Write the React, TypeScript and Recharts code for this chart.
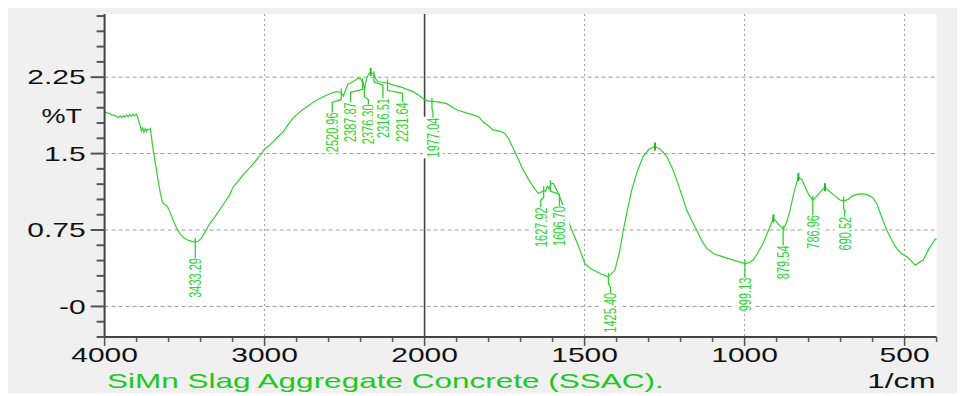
import {
  ComposedChart, Line, XAxis, YAxis, CartesianGrid, ReferenceDot,
} from "recharts";

// FTIR trace, wavenumber (1/cm) vs %T
const wavenumbers = [
  4000, 3985, 3970, 3955, 3940, 3925, 3912, 3902, 3892, 3882, 3872, 3862, 3852, 3842, 3832, 3822,
  3812, 3802, 3794, 3786, 3778, 3770, 3762, 3754, 3746, 3738, 3730, 3722, 3714, 3706, 3695, 3680,
  3665, 3650, 3638, 3625, 3612, 3598, 3585, 3570, 3550, 3530, 3505, 3475, 3450, 3433, 3415, 3395,
  3375, 3355, 3335, 3310, 3280, 3250, 3220, 3196, 3170, 3140, 3100, 3060, 3030, 3000, 2975, 2950,
  2920, 2883, 2860, 2821, 2790, 2760, 2730, 2696, 2654, 2610, 2580, 2560, 2540, 2521, 2508, 2495,
  2480, 2466, 2440, 2414, 2400, 2388, 2383, 2376, 2368, 2362, 2350, 2337, 2328, 2316, 2300, 2289,
  2260, 2227, 2190, 2154, 2110, 2071, 2035, 1999, 1978, 1962, 1931, 1900, 1870, 1848, 1830, 1817,
  1800, 1785, 1764, 1750, 1738, 1723, 1705, 1692, 1672, 1655, 1645, 1636, 1628, 1622, 1616, 1611,
  1606, 1598, 1590, 1582, 1572, 1544, 1520, 1499, 1485, 1473, 1450, 1426, 1405, 1390, 1379, 1366,
  1353, 1335, 1317, 1300, 1280, 1262, 1243, 1225, 1212, 1195, 1181, 1165, 1150, 1135, 1118, 1095,
  1067, 1035, 999, 985, 973, 960, 942, 925, 910, 895, 879, 868, 858, 845, 832, 820,
  811, 800, 787, 775, 762, 749, 735, 720, 702, 690, 676, 665, 650, 635, 618, 600,
  587, 572, 556, 540, 525, 510, 493, 480, 467, 455, 442, 425, 405, 400,
];
const transmittance = [
  1.91, 1.9, 1.895, 1.88, 1.875, 1.865, 1.855, 1.87, 1.855, 1.872, 1.86, 1.878, 1.862, 1.882, 1.866, 1.886,
  1.87, 1.89, 1.86, 1.81, 1.78, 1.72, 1.75, 1.71, 1.745, 1.72, 1.74, 1.735, 1.745, 1.65, 1.52, 1.38,
  1.23, 1.1, 1.02, 1.0, 0.99, 0.95, 0.9, 0.84, 0.77, 0.715, 0.675, 0.648, 0.636, 0.632, 0.64, 0.67,
  0.72, 0.78, 0.83, 0.88, 0.95, 1.02, 1.09, 1.175, 1.22, 1.28, 1.35, 1.42, 1.48, 1.545, 1.575, 1.61,
  1.66, 1.715, 1.77, 1.85, 1.895, 1.935, 1.965, 2.005, 2.04, 2.075, 2.095, 2.105, 2.105, 2.1, 2.065, 2.12,
  2.18, 2.19, 2.215, 2.24, 2.235, 2.2, 2.2, 2.12, 2.2, 2.24, 2.28, 2.3, 2.29, 2.27, 2.22, 2.205,
  2.2, 2.19, 2.17, 2.157, 2.13, 2.108, 2.07, 2.027, 2.01, 2.01, 1.99, 1.93, 1.9, 1.88, 1.86, 1.81,
  1.77, 1.73, 1.72, 1.7, 1.65, 1.55, 1.43, 1.34, 1.23, 1.15, 1.11, 1.12, 1.14, 1.13, 1.18, 1.15,
  1.2, 1.21, 1.16, 1.11, 1.03, 0.78, 0.6, 0.42, 0.38, 0.357, 0.32, 0.29, 0.357, 0.55, 0.75, 0.95,
  1.14, 1.33, 1.47, 1.54, 1.57, 1.54, 1.47, 1.35, 1.24, 1.08, 0.946, 0.84, 0.75, 0.65, 0.57, 0.515,
  0.487, 0.455, 0.42, 0.43, 0.455, 0.52, 0.62, 0.75, 0.865, 0.81, 0.755, 0.83, 0.946, 1.13, 1.27, 1.24,
  1.175, 1.1, 1.044, 1.08, 1.13, 1.17, 1.13, 1.09, 1.044, 1.037, 1.05, 1.08, 1.1, 1.105, 1.1, 1.07,
  1.01, 0.88, 0.75, 0.65, 0.57, 0.52, 0.487, 0.45, 0.405, 0.43, 0.455, 0.56, 0.658, 0.66,
];

// picked peaks (labelled) and unlabelled maxima ticks
const peakWavenumbers = [3433.29, 2520.96, 2387.87, 2376.3, 2316.51, 2231.64, 1977.04, 1627.92, 1606.7, 1425.4, 999.13, 879.54, 786.96, 690.52];
const peakTransmittance = [0.632, 2.1, 2.2, 2.12, 2.27, 2.19, 2.01, 1.14, 1.2, 0.29, 0.42, 0.755, 1.044, 1.037];
const topWavenumbers = [2337, 1280, 910, 832, 749];
const topTransmittance = [2.3, 1.57, 0.865, 1.27, 1.17];

const xTickWavenumbers = [
  4000, 3800, 3600, 3400, 3200, 3000, 2800, 2600, 2400, 2200, 2000,
  1900, 1800, 1700, 1600, 1500, 1400, 1300, 1200, 1100, 1000, 900, 800, 700, 600, 500, 400,
];
const xLabelWavenumbers = [4000, 3000, 2000, 1500, 1000, 500];
const xGridWavenumbers = [3000, 1500, 1000, 500];
const yTickValues = [
  -0.3, -0.15, 0, 0.15, 0.3, 0.45, 0.6, 0.75, 0.9, 1.05, 1.2, 1.35, 1.5, 1.65, 1.8, 1.95, 2.1, 2.25, 2.4, 2.55, 2.7, 2.85,
];
const yLabelValues = [2.25, 1.5, 0.75, 0];
const yLabelTexts = ["2.25", "1.5", "0.75", "-0"];

// label placement: [horizontal shift, distance below the marker]
const peakLabelLayout: Record<string, [number, number]> = {
  "3433.29": [0, 16], "2520.96": [-9, 20], "2387.87": [-12, 20], "2376.30": [4, 14],
  "2316.51": [9, 23], "2231.64": [15, 19], "1977.04": [1, 16], "1627.92": [-3, 17],
  "1606.70": [9, 22], "1425.40": [2, 16], "999.13": [0, 14], "879.54": [0, 16],
  "786.96": [0, 15], "690.52": [1, 16],
};

// the instrument plots 4000-2000 at half the scale of 2000-400
const toU = (w: number) => (w >= 2000 ? (4000 - w) / 2 : 1000 + (2000 - w));

const spectrum = wavenumbers.map((w, i) => ({ u: toU(w), t: transmittance[i] }));

const FONT = '"Liberation Sans", Arial, sans-serif';
const STRETCH = 1.5;
const GREEN = "#33cf33";
const Y_DOMAIN: [number, number] = [-0.3, 2.87];

function YTick(props: any) {
  const { x, y, payload } = props;
  const idx = yLabelValues.findIndex((v) => Math.abs(v - payload.value) < 1e-6);
  const major = idx >= 0;
  return (
    <g>
      <line x1={x - (major ? 14 : 8)} x2={x} y1={y} y2={y} stroke="#555" strokeWidth={2} />
      {major && (
        <text
          transform={`translate(${x - 19},${y}) scale(${STRETCH},1)`}
          textAnchor="end" dy="0.36em" fontSize={20} fill="#111" fontFamily={FONT}
        >
          {yLabelTexts[idx]}
        </text>
      )}
    </g>
  );
}

function XTick(props: any) {
  const { x, y, payload } = props;
  const idx = xLabelWavenumbers.findIndex((w) => Math.abs(toU(w) - payload.value) < 1e-6);
  const major = idx >= 0;
  return (
    <g>
      <line x1={x} x2={x} y1={y} y2={y + (major ? 9 : 5)} stroke="#555" strokeWidth={1.5} />
      {major && (
        <text
          transform={`translate(${x},${y + 25}) scale(${STRETCH},1)`}
          textAnchor="middle" fontSize={20} fill="#111" fontFamily={FONT}
        >
          {xLabelWavenumbers[idx]}
        </text>
      )}
    </g>
  );
}

function PeakMark({ cx, cy, text }: { cx: number; cy: number; text: string }) {
  const [dx, gap] = peakLabelLayout[text] ?? [0, 16];
  const fs = 11;
  const len = ((text.length - 1) * 0.556 + 0.278) * fs;
  const half = (0.716 * fs * STRETCH) / 2;
  const tx = cx + dx;
  const top = cy + gap;
  const knee = cy + Math.min(7, gap * 0.45);
  return (
    <g>
      <rect x={tx - half - 4} y={top - 1} width={2 * half + 8} height={len + 2} fill="#fff" />
      <polyline
        points={`${cx},${cy - 4} ${cx},${knee} ${tx},${knee + (dx === 0 ? 0 : 3)} ${tx},${top}`}
        fill="none" stroke={GREEN} strokeWidth={1.3}
      />
      <text
        transform={`translate(${tx},${top}) scale(${STRETCH},1) rotate(-90)`}
        textAnchor="end" dy="0.36em" fontSize={fs} fill="#2ed62e" fontFamily={FONT}
      >
        {text}
      </text>
    </g>
  );
}

function TopMark({ cx, cy }: { cx: number; cy: number }) {
  return <line x1={cx} x2={cx} y1={cy - 4} y2={cy + 4} stroke="#22b822" strokeWidth={2} />;
}

export default function App() {
  return (
    <div style={{ position: "relative", width: 949, height: 385, background: "#f0f0f0", fontFamily: FONT }}>
      <ComposedChart
        width={949}
        height={385}
        data={spectrum}
        margin={{ top: 6, right: 20.4, bottom: 0, left: 0 }}
      >
        {/* white plot area with dashed horizontal grid */}
        <CartesianGrid
          vertical={false} horizontalValues={yLabelValues} fill="#fff"
          stroke="#9a9a9a" strokeDasharray="4 3"
        />
        <CartesianGrid
          horizontal={false} verticalValues={xGridWavenumbers.map(toU)}
          stroke="#9a9a9a" strokeDasharray="2 3"
        />
        {/* solid divider where the wavenumber scale changes */}
        <CartesianGrid
          horizontal={false} verticalValues={[toU(2000)]} stroke="#444" strokeWidth={1.6}
        />
        <XAxis
          type="number" dataKey="u" domain={[0, 2600]} ticks={xTickWavenumbers.map(toU)}
          interval={0} height={56} tickSize={0} tickMargin={0} tickLine={false}
          axisLine={{ stroke: "#444", strokeWidth: 2 }} tick={<XTick />}
        />
        <XAxis
          xAxisId="top" orientation="top" type="number" dataKey="u" domain={[0, 2600]}
          height={0} tick={false} tickLine={false} axisLine={{ stroke: "#444", strokeWidth: 2 }}
        />
        <YAxis
          type="number" domain={Y_DOMAIN} ticks={yTickValues} interval={0} width={96.6}
          tickSize={0} tickMargin={0} tickLine={false}
          axisLine={{ stroke: "#444", strokeWidth: 2 }} tick={<YTick />}
        />
        <YAxis
          yAxisId="right" orientation="right" type="number" domain={Y_DOMAIN}
          width={0} tick={false} tickLine={false} axisLine={{ stroke: "#b8b8b8" }}
        />
        <Line
          dataKey="t" type="linear" stroke={GREEN} strokeWidth={1.2}
          dot={false} activeDot={false} isAnimationActive={false}
        />
        {topWavenumbers.map((w, i) => (
          <ReferenceDot
            key={`top${w}`} x={toU(w)} y={topTransmittance[i]} r={0}
            shape={(p: any) => <TopMark cx={p.cx} cy={p.cy} />}
          />
        ))}
        {peakWavenumbers.map((w, i) => (
          <ReferenceDot
            key={`pk${w}`} x={toU(w)} y={peakTransmittance[i]} r={0}
            shape={(p: any) => <PeakMark cx={p.cx} cy={p.cy} text={w.toFixed(2)} />}
          />
        ))}
      </ComposedChart>
      <div
        style={{
          position: "absolute", right: 875, top: 97, fontSize: 20, lineHeight: "22px",
          color: "#111", transform: "scaleX(1.35)", transformOrigin: "right", whiteSpace: "nowrap",
        }}
      >
        %T
      </div>
      <div
        style={{
          position: "absolute", left: 99, top: 362, fontSize: 21, lineHeight: "22px",
          color: "#22c822", transform: `scaleX(${STRETCH})`, transformOrigin: "left", whiteSpace: "nowrap",
        }}
      >
        SiMn Slag Aggregate Concrete (SSAC).
      </div>
      <div
        style={{
          position: "absolute", right: 21, top: 362, fontSize: 21, lineHeight: "22px",
          color: "#111", transform: `scaleX(${STRETCH})`, transformOrigin: "right", whiteSpace: "nowrap",
        }}
      >
        1/cm
      </div>
    </div>
  );
}
